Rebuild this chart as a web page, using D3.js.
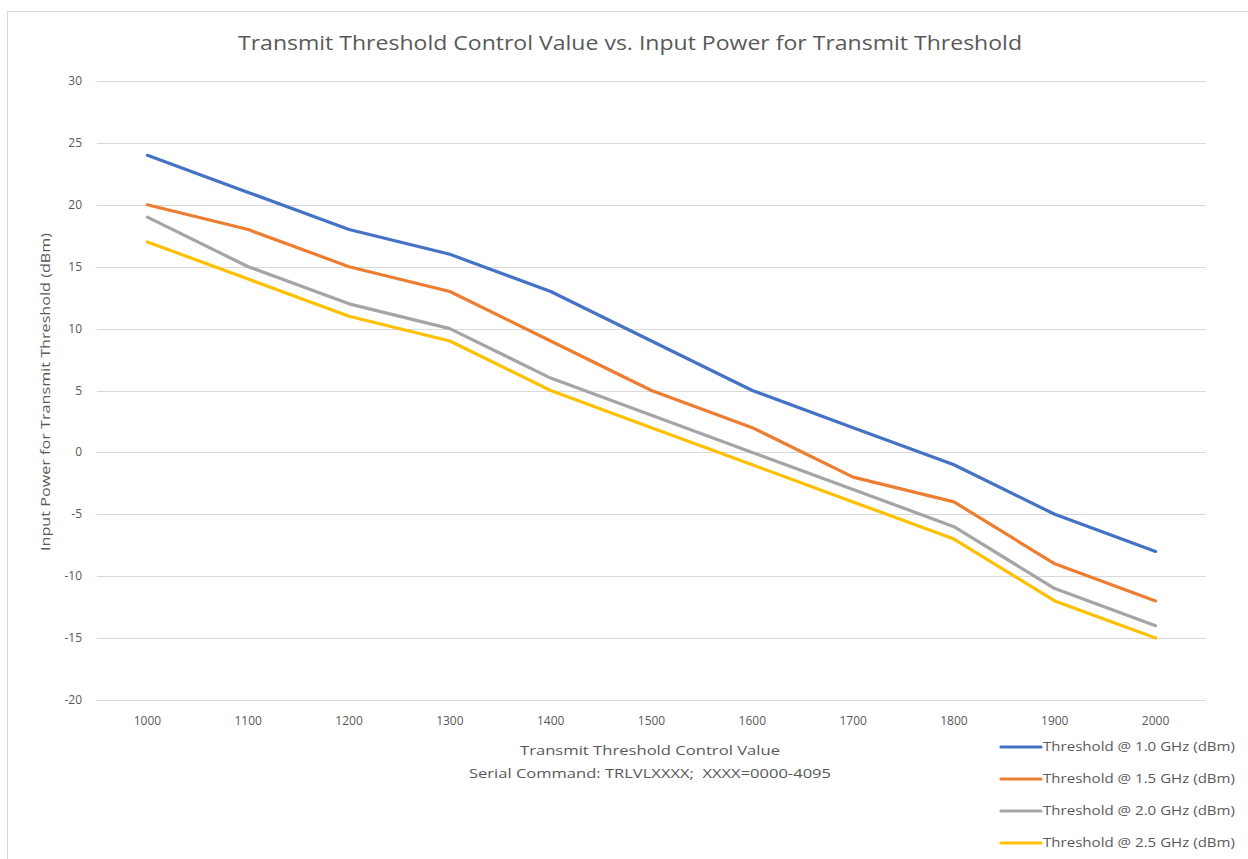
<!DOCTYPE html>
<html>
<head>
<meta charset="utf-8">
<script src="https://cdn.jsdelivr.net/npm/d3@7"></script>
<style>
    body { margin: 0; background: #fff; }
    text { font-family: "Open Sans", "Noto Sans", sans-serif; fill: #595959; white-space: pre; }
</style>
</head>
<body>
<div id="chart"></div>
<script>
// Chart data
const controlValues = [1000, 1100, 1200, 1300, 1400, 1500, 1600, 1700, 1800, 1900, 2000];
const seriesNames = [
    "Threshold @ 1.0 GHz (dBm)",
    "Threshold @ 1.5 GHz (dBm)",
    "Threshold @ 2.0 GHz (dBm)",
    "Threshold @ 2.5 GHz (dBm)"
];
const ghz10 = [24, 21, 18, 16, 13, 9, 5, 2, -1, -5, -8];
const ghz15 = [20, 18, 15, 13, 9, 5, 2, -2, -4, -9, -12];
const ghz20 = [19, 15, 12, 10, 6, 3, 0, -3, -6, -11, -14];
const ghz25 = [17, 14, 11, 9, 5, 2, -1, -4, -7, -12, -15];
const yTicks = [30, 25, 20, 15, 10, 5, 0, -5, -10, -15, -20];
const colors = ["#4472C4", "#ED7D31", "#A5A5A5", "#FFC000"];

const width = 1248;
const height = 859;
const plot = { left: 97, right: 1206, top: 81, bottom: 700 };

const svg = d3.select("#chart").append("svg")
    .attr("width", width)
    .attr("height", height);

// Chart frame
svg.append("rect")
    .attr("x", 7.5).attr("y", 11.5)
    .attr("width", width).attr("height", height)
    .attr("fill", "none")
    .attr("stroke", "#d9d9d9");

// Scales
let xScale = d3.scaleBand()
    .domain(controlValues)
    .range([plot.left, plot.right]);
let yScale = d3.scaleLinear()
    .domain([-20, 30])
    .range([plot.bottom, plot.top]);

// Horizontal gridlines
svg.append("g")
    .selectAll("line")
    .data(yTicks)
    .enter().append("line")
        .attr("x1", plot.left)
        .attr("x2", plot.right)
        .attr("y1", d => Math.round(yScale(d)) + 0.5)
        .attr("y2", d => Math.round(yScale(d)) + 0.5)
        .attr("stroke", "#d9d9d9")
        .attr("stroke-width", 1);

// Y tick labels
svg.append("g")
    .selectAll("text")
    .data(yTicks)
    .enter().append("text")
        .attr("x", 82)
        .attr("y", d => yScale(d) + 4)
        .attr("text-anchor", "end")
        .attr("font-size", 12)
        .text(d => d);

// X tick labels
svg.append("g")
    .selectAll("text")
    .data(controlValues)
    .enter().append("text")
        .attr("x", d => xScale(d) + xScale.bandwidth() / 2)
        .attr("y", 725)
        .attr("text-anchor", "middle")
        .attr("font-size", 12)
        .text(d => d);

// Lines
let allSeries = [ghz10, ghz15, ghz20, ghz25];
let line = d3.line()
    .x((d, i) => xScale(controlValues[i]) + xScale.bandwidth() / 2)
    .y(d => yScale(d));

svg.append("g")
    .selectAll("path")
    .data(allSeries)
    .enter().append("path")
        .attr("d", d => line(d))
        .attr("fill", "none")
        .attr("stroke", (d, i) => colors[i])
        .attr("stroke-width", 3.2)
        .attr("stroke-linejoin", "round")
        .attr("stroke-linecap", "round");

// Title
svg.append("text")
    .attr("x", 630)
    .attr("y", 50)
    .attr("text-anchor", "middle")
    .attr("font-size", 20)
    .attr("textLength", 784)
    .attr("lengthAdjust", "spacingAndGlyphs")
    .text("Transmit Threshold Control Value vs. Input Power for Transmit Threshold");

// Axis titles
svg.append("text")
    .attr("x", 650)
    .attr("y", 755)
    .attr("text-anchor", "middle")
    .attr("font-size", 13)
    .attr("textLength", 260)
    .attr("lengthAdjust", "spacingAndGlyphs")
    .text("Transmit Threshold Control Value");
svg.append("text")
    .attr("x", 650)
    .attr("y", 778)
    .attr("text-anchor", "middle")
    .attr("font-size", 13)
    .attr("textLength", 362)
    .attr("lengthAdjust", "spacingAndGlyphs")
    .text("Serial Command: TRLVLXXXX;  XXXX=0000-4095");
svg.append("text")
    .attr("transform", "translate(50,392) rotate(-90)")
    .attr("text-anchor", "middle")
    .attr("font-size", 13)
    .attr("textLength", 318)
    .attr("lengthAdjust", "spacingAndGlyphs")
    .text("Input Power for Transmit Threshold (dBm)");

// Legend
let legend = svg.append("g")
    .selectAll("g")
    .data(seriesNames)
    .enter().append("g")
        .attr("transform", (d, i) => "translate(1001," + (747 + i * 32) + ")");
legend.append("line")
    .attr("x1", 0).attr("x2", 40)
    .attr("stroke", (d, i) => colors[i])
    .attr("stroke-width", 3.2)
    .attr("stroke-linecap", "round");
legend.append("text")
    .attr("x", 42)
    .attr("y", 4)
    .attr("font-size", 12)
    .attr("textLength", 192)
    .attr("lengthAdjust", "spacingAndGlyphs")
    .text(d => d);
</script>
</body>
</html>
